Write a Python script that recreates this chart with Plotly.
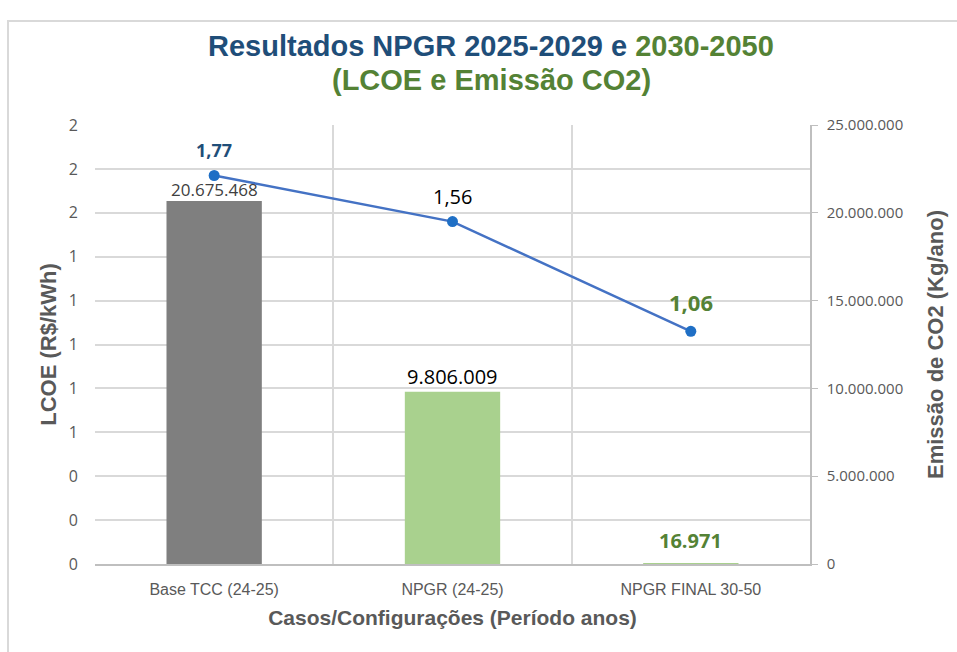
import plotly.graph_objects as go

categories = ["Base TCC (24-25)", "NPGR (24-25)", "NPGR FINAL 30-50"]
emissao_co2 = [20675468, 9806009, 16971]
emissao_labels = ["20.675.468", "9.806.009", "<b>16.971</b>"]
lcoe = [1.77, 1.56, 1.06]
lcoe_labels = ["<b>1,77</b>", "1,56", "<b>1,06</b>"]
bar_colors = ["#7F7F7F", "#A9D18E", "#A9D18E"]
right_tickvals = [0, 5000000, 10000000, 15000000, 20000000, 25000000]
right_ticktext = ["0", "5.000.000", "10.000.000", "15.000.000", "20.000.000", "25.000.000"]

FONT = "Liberation Sans, Arial, sans-serif"
LFONT = "Open Sans, Liberation Sans, sans-serif"

W, H = 957, 652
L, R, T, B = 95, 147, 125, 88
PW, PH = W - L - R, H - T - B


def px_x(x):
    return (x - L) / PW


def px_y(y):
    return (H - B - y) / PH


fig = go.Figure()

fig.add_trace(go.Bar(
    x=categories, y=emissao_co2, yaxis="y",
    marker=dict(color=bar_colors, line=dict(width=0)),
    width=0.4, showlegend=False,
))

fig.add_trace(go.Scatter(
    x=categories, y=lcoe, yaxis="y2", mode="lines+markers",
    line=dict(color="#4472C4", width=2.5),
    marker=dict(color="#1F6FC5", size=11),
    showlegend=False,
))

annotations = [
    dict(text="<b><span style='color:#1F4E79'>Resultados NPGR 2025-2029 e </span>"
              "<span style='color:#548235'>2030-2050</span></b>",
         xref="paper", yref="paper", x=px_x(491), y=px_y(46), xanchor="center", yanchor="middle",
         showarrow=False, font=dict(family=FONT, size=29)),
    dict(text="<b>(LCOE e Emissão CO2)</b>",
         xref="paper", yref="paper", x=px_x(491), y=px_y(80), xanchor="center", yanchor="middle",
         showarrow=False, font=dict(family=FONT, size=29, color="#548235")),
]

bar_label_styles = [("#404040", 17, "Segoe UI, Open Sans, sans-serif", 11),
                    ("#000000", 20, LFONT, 15),
                    ("#548235", 20, LFONT, 23)]
for cat, val, lab, (col, sz, fam, sh) in zip(categories, emissao_co2, emissao_labels, bar_label_styles):
    annotations.append(dict(text=lab, x=cat, y=val, xref="x", yref="y", showarrow=False,
                            xanchor="center", yanchor="middle", yshift=sh,
                            font=dict(color=col, size=sz, family=fam)))

line_label_styles = [("#1F4E79", 18, 25), ("#000000", 20, 25), ("#548235", 22, 29)]
for cat, val, lab, (col, sz, sh) in zip(categories, lcoe, lcoe_labels, line_label_styles):
    annotations.append(dict(text=lab, x=cat, y=val, xref="x", yref="y2", showarrow=False,
                            xanchor="center", yanchor="middle", yshift=sh,
                            font=dict(color=col, size=sz, family=LFONT)))

fig.update_layout(
    width=W, height=H,
    paper_bgcolor="white", plot_bgcolor="white",
    margin=dict(l=L, r=R, t=T, b=B, autoexpand=False),
    annotations=annotations,
    xaxis=dict(
        type="category", tickson="boundaries", showgrid=True, gridcolor="#D9D9D9", gridwidth=1.5,
        showline=True, linecolor="#BFBFBF", linewidth=1.5, ticks="", ticklabelstandoff=10,
        tickfont=dict(family=FONT, size=16, color="#595959"),
        title=dict(text="<b>Casos/Configurações (Período anos)</b>", standoff=13,
                   font=dict(family=FONT, size=21, color="#595959")),
    ),
    yaxis=dict(
        side="right", range=[0, 25000000], tickvals=right_tickvals, ticktext=right_ticktext,
        showgrid=False, zeroline=False, showline=True, linecolor="#BFBFBF", linewidth=1.5,
        ticks="outside", ticklen=6, tickcolor="#BFBFBF", ticklabelstandoff=6,
        tickfont=dict(family=LFONT, size=15, color="#595959"),
        title=dict(text="<b>Emissão de CO2 (Kg/ano)</b>", standoff=25,
                   font=dict(family=FONT, size=22, color="#595959")),
    ),
    yaxis2=dict(
        side="left", overlaying="y", range=[0, 2.0], dtick=0.2, tickformat=".0f",
        showgrid=True, gridcolor="#D9D9D9", gridwidth=1.5, zeroline=False,
        showline=False, ticks="", ticklabelstandoff=16,
        tickfont=dict(family=LFONT, size=16, color="#595959"),
        title=dict(text="<b>LCOE (R$/kWh)</b>", standoff=6,
                   font=dict(family=FONT, size=22, color="#595959")),
    ),
    shapes=[dict(type="rect", xref="paper", yref="paper",
                 x0=px_x(8), x1=px_x(1000), y0=px_y(700), y1=px_y(21),
                 line=dict(color="#D9D9D9", width=2), fillcolor="rgba(0,0,0,0)", layer="below")],
)

fig.write_html("out.html", config={"displayModeBar": False},
               post_script="document.body.style.margin='0px';")
